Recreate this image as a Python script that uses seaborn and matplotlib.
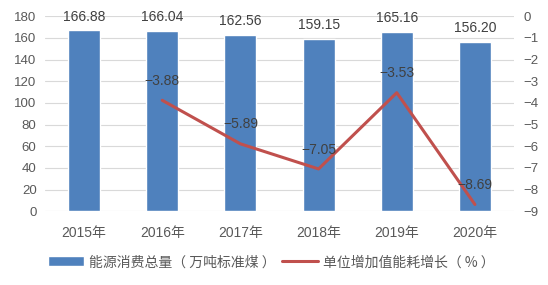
import matplotlib
matplotlib.use("Agg")
import matplotlib.pyplot as plt
import seaborn as sns
import pandas as pd

years = ["2015年", "2016年", "2017年", "2018年", "2019年", "2020年"]
energy = [166.88, 166.04, 162.56, 159.15, 165.16, 156.20]
growth_years = ["2016年", "2017年", "2018年", "2019年", "2020年"]
growth = [-3.88, -5.89, -7.05, -3.53, -8.69]
left_ticks = list(range(0, 181, 20))
right_ticks = list(range(-9, 1, 1))

sns.set_theme(style="white")
plt.rcParams['font.family'] = ['Liberation Sans', 'Noto Sans CJK SC', 'DejaVu Sans']
plt.rcParams['axes.unicode_minus'] = True

bar_color = "#4F81BD"
line_color = "#C0504D"
text_color = "#595959"

fig = plt.figure(figsize=(5.48, 2.85), dpi=100)
ax = fig.add_axes([0.082, 0.259, 0.856, 0.684])

df = pd.DataFrame({"year": years, "energy": energy})
sns.barplot(data=df, x="year", y="energy", color=bar_color, width=0.41,
            saturation=1, ax=ax, label="能源消费总量（ 万吨标准煤 ）")
ax.set_ylim(0, 180)
ax.set_yticks(left_ticks)
ax.set_xlim(-0.5, 5.5)
ax.grid(axis="y", color="#D9D9D9", linewidth=0.8)
ax.set_axisbelow(True)
for s in ["top", "right", "left", "bottom"]:
    ax.spines[s].set_visible(False)
ax.set_xlabel("")
ax.set_ylabel("")
ax.tick_params(axis="y", colors=text_color, labelsize=9.5, length=0, pad=6)
ax.tick_params(axis="x", colors=text_color, labelsize=10, length=0, pad=11)
for c in ax.containers:
    ax.bar_label(c, labels=[f"{v:.2f}" for v in energy], padding=5,
                 fontsize=10, color="#404040")

ax2 = ax.twinx()
gx = [years.index(y) for y in growth_years]
gdf = pd.DataFrame({"x": gx, "growth": growth})
sns.lineplot(data=gdf, x="x", y="growth", color=line_color, linewidth=2.2,
             ax=ax2, label="单位增加值能耗增长（ % ）")
ax2.set_ylim(-9, 0)
ax2.set_yticks(right_ticks)
ax2.set_yticklabels([f"{t}".replace("-", "\u2212") for t in right_ticks])
ax2.set_xlim(-0.5, 5.5)
ax2.set_ylabel("")
ax2.set_xlabel("")
for s in ["top", "right", "left", "bottom"]:
    ax2.spines[s].set_visible(False)
ax2.tick_params(axis="y", colors=text_color, labelsize=9.5, length=0, pad=7)
for x, v in zip(gx, growth):
    ax2.annotate(f"{v:.2f}".replace("-", "\u2212"), (x, v), xytext=(0, 14),
                 textcoords="offset points", ha="center", va="center",
                 fontsize=10, color="#404040")

if ax.get_legend():
    ax.get_legend().remove()
if ax2.get_legend():
    ax2.get_legend().remove()
h1, l1 = ax.get_legend_handles_labels()
h2, l2 = ax2.get_legend_handles_labels()
fig.legend(h1 + h2, l1 + l2, loc="center", bbox_to_anchor=(0.495, 0.08),
           ncol=2, frameon=False, labelcolor=text_color,
           prop={"family": ["Noto Sans CJK SC", "DejaVu Sans"], "size": 10},
           handlelength=2.6, columnspacing=0.4, handletextpad=0.4)

fig.savefig("out.png", dpi=100)
